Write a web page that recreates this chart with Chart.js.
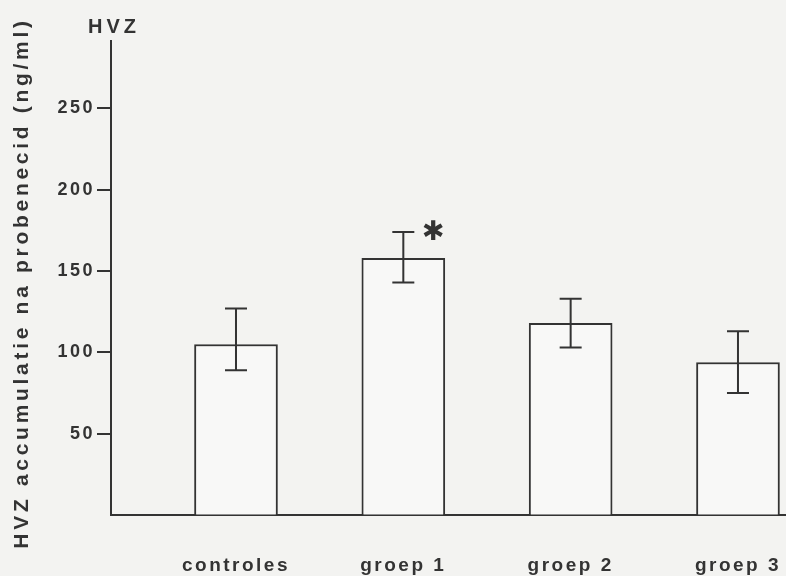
<!DOCTYPE html>
<html>
<head>
<meta charset="utf-8">
<title>HVZ accumulatie na probenecid</title>
<script src="https://cdn.jsdelivr.net/npm/chart.js@4.4.1/dist/chart.umd.min.js"></script>
<style>
  html, body { margin: 0; padding: 0; background: #f3f3f1; overflow: hidden; }
  #wrap { width: 786px; height: 576px; }
</style>
</head>
<body>
<div id="wrap"><canvas id="hvz-chart"></canvas></div>
<script>
// HVZ values (ng/ml)
const categories = ["controles", "groep 1", "groep 2", "groep 3"];
const means = [105, 158, 118, 94];
const errHigh = [127, 174, 133, 113];
const errLow = [89, 143, 103, 75];
const significant = [false, true, false, false];
const yTicks = [50, 100, 150, 200, 250];

const ink = "#333333";
const family = '"Liberation Sans", Arial, sans-serif';

// error bars, asterisk and the hand-lettered titles
const annotations = {
  id: "annotations",
  beforeDraw(chart) {
    chart.ctx.letterSpacing = "2.5px";
  },
  afterDatasetsDraw(chart) {
    const { ctx } = chart;
    const x = chart.scales.x;
    const y = chart.scales.y;
    ctx.save();
    ctx.strokeStyle = ink;
    ctx.lineWidth = 2;
    means.forEach((m, i) => {
      const px = x.getPixelForValue(i + 1);
      const top = y.getPixelForValue(errHigh[i]);
      const bottom = y.getPixelForValue(errLow[i]);
      ctx.beginPath();
      ctx.moveTo(px, top);
      ctx.lineTo(px, bottom);
      ctx.moveTo(px - 11, top);
      ctx.lineTo(px + 11, top);
      ctx.moveTo(px - 11, bottom);
      ctx.lineTo(px + 11, bottom);
      ctx.stroke();

      if (significant[i]) {
        ctx.fillStyle = ink;
        ctx.letterSpacing = "0px";
        ctx.font = 'bold 27px "DejaVu Sans", sans-serif';
        ctx.textAlign = "center";
        ctx.textBaseline = "middle";
        ctx.fillText("\u2731", px + 30, top + 1);
      }
    });
    ctx.restore();
  },
  afterDraw(chart) {
    const { ctx } = chart;
    ctx.save();
    ctx.fillStyle = ink;
    ctx.textAlign = "center";
    ctx.textBaseline = "middle";

    ctx.letterSpacing = "4px";
    ctx.font = "bold 20px " + family;
    ctx.fillText("HVZ", chart.chartArea.left + 3, 27);

    ctx.translate(22, 283);
    ctx.rotate(-Math.PI / 2);
    ctx.letterSpacing = "3.7px";
    ctx.font = "bold 21px " + family;
    ctx.fillText("HVZ accumulatie na probenecid (ng/ml)", 0, 0);
    ctx.restore();
    ctx.letterSpacing = "0px";
  },
};

new Chart(document.getElementById("hvz-chart"), {
  type: "bar",
  data: {
    datasets: [
      {
        data: categories.map((c, i) => ({ x: i + 1, y: means[i] })),
        backgroundColor: "rgba(255, 255, 255, 0.45)",
        borderColor: ink,
        borderWidth: 2,
        categoryPercentage: 1,
        barPercentage: 0.5,
      },
    ],
  },
  options: {
    responsive: true,
    maintainAspectRatio: false,
    animation: false,
    layout: { padding: { top: 41, left: 0, right: 0, bottom: 0 } },
    plugins: {
      legend: { display: false },
      tooltip: { enabled: false },
    },
    scales: {
      x: {
        type: "linear",
        offset: false,
        min: 0.253,
        max: 4.287,
        afterBuildTicks: (scale) => {
          scale.ticks = categories.map((c, i) => ({ value: i + 1 }));
        },
        afterFit: (scale) => {
          scale.height = 61;
          scale.paddingLeft = 0;
          scale.paddingRight = 0;
        },
        grid: { display: false, drawTicks: false },
        border: { display: true, color: ink, width: 2 },
        ticks: {
          padding: 39,
          color: ink,
          font: { family: family, size: 19, weight: "bold" },
          callback: (value) => categories[value - 1] || "",
          maxRotation: 0,
        },
      },
      y: {
        min: 0,
        max: 291.5,
        afterBuildTicks: (scale) => {
          scale.ticks = yTicks.map((v) => ({ value: v }));
        },
        afterFit: (scale) => {
          scale.width = 111;
        },
        grid: {
          drawOnChartArea: false,
          drawTicks: true,
          tickLength: 14,
          color: ink,
          lineWidth: 2,
        },
        border: { display: true, color: ink, width: 2 },
        ticks: {
          padding: 2,
          color: ink,
          font: { family: family, size: 18, weight: "bold" },
        },
      },
    },
  },
  plugins: [annotations],
});
</script>
</body>
</html>
